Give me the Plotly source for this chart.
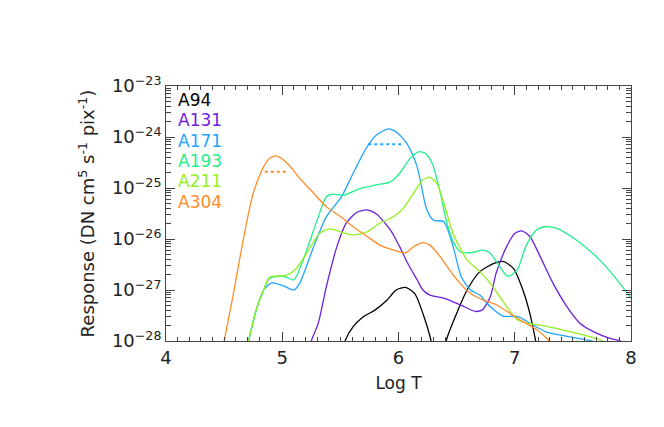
import plotly.graph_objects as go

# ---- data (log T, log10 response) ----
a94_logt = [5.50, 5.54, 5.61, 5.70, 5.80, 5.90, 5.98, 6.06, 6.14, 6.21, 6.28, 6.33, 6.345, 6.36,
            6.41, 6.50, 6.59, 6.70, 6.82, 6.90, 6.99, 7.07, 7.13, 7.18, 7.22]
a94_log = [-28.5, -28.0, -27.72, -27.52, -27.39, -27.20, -27.0, -26.95, -27.07, -27.46, -28.0, -28.8, -30.0, -28.8,
           -28.0, -27.46, -27.0, -26.64, -26.48, -26.44, -26.58, -27.0, -27.46, -28.0, -28.5]

a131_logt = [5.22, 5.25, 5.31, 5.38, 5.47, 5.55, 5.64, 5.73, 5.81, 5.93, 6.01, 6.08, 6.16, 6.21, 6.27,
             6.39, 6.53, 6.66, 6.72, 6.79, 6.84, 6.93, 7.00, 7.06, 7.13, 7.22, 7.33, 7.45, 7.56, 7.68,
             7.82, 7.91, 8.0]
a131_log = [-28.3, -28.0, -27.65, -26.93, -26.15, -25.69, -25.48, -25.43, -25.51, -25.82, -26.15, -26.48,
            -26.80, -27.0, -27.10, -27.16, -27.29, -27.42, -27.39, -27.13, -26.67, -26.15, -25.89, -25.84,
            -25.95, -26.35, -26.87, -27.33, -27.65, -27.82, -27.95, -28.0, -28.1]

a171_logt = [4.68, 4.71, 4.78, 4.84, 4.91, 5.01, 5.10, 5.15, 5.27, 5.38, 5.51, 5.61, 5.73, 5.81, 5.91,
             5.98, 6.07, 6.16, 6.24, 6.30, 6.39, 6.47, 6.54, 6.62, 6.70, 6.79, 6.90, 7.03, 7.13, 7.27,
             7.48, 7.66, 7.9]
a171_log = [-28.3, -28.0, -27.36, -27.0, -26.86, -26.92, -27.0, -26.87, -26.15, -25.56, -25.17, -24.71,
            -24.19, -23.96, -23.84, -23.90, -24.12, -24.58, -25.40, -25.63, -25.66, -26.15, -26.74, -27.0,
            -27.10, -27.33, -27.51, -27.52, -27.65, -27.82, -27.92, -28.0, -28.2]

a193_logt = [4.68, 4.71, 4.78, 4.84, 4.89, 5.01, 5.10, 5.18, 5.30, 5.38, 5.44, 5.53, 5.67, 5.81, 5.93,
             6.01, 6.10, 6.17, 6.23, 6.29, 6.36, 6.41, 6.47, 6.53, 6.62, 6.73, 6.79, 6.87, 6.94, 7.02,
             7.10, 7.19, 7.26, 7.36, 7.53, 7.73, 7.88, 8.0]
a193_log = [-28.3, -28.0, -27.36, -27.0, -26.77, -26.73, -26.80, -26.41, -25.63, -25.17, -25.12, -25.14,
            -25.01, -24.94, -24.88, -24.71, -24.42, -24.29, -24.32, -24.52, -25.10, -25.63, -26.05, -26.25,
            -26.27, -26.22, -26.28, -26.54, -26.73, -26.61, -26.12, -25.82, -25.76, -25.79, -26.02, -26.41,
            -26.80, -27.16]

a211_logt = [4.68, 4.71, 4.78, 4.84, 4.89, 5.04, 5.12, 5.21, 5.32, 5.41, 5.50, 5.61, 5.73, 5.84, 5.96,
             6.04, 6.13, 6.21, 6.27, 6.33, 6.39, 6.47, 6.59, 6.70, 6.79, 6.90, 7.02, 7.10, 7.22, 7.39,
             7.59, 7.76, 7.9]
a211_log = [-28.3, -28.0, -27.36, -27.0, -26.75, -26.71, -26.58, -26.28, -25.89, -25.80, -25.86, -25.92,
            -25.86, -25.69, -25.56, -25.40, -25.10, -24.84, -24.79, -24.91, -25.30, -25.89, -26.41, -26.64,
            -26.87, -27.23, -27.58, -27.65, -27.69, -27.77, -27.88, -28.0, -28.2]

a304_logt = [4.45, 4.50, 4.58, 4.67, 4.75, 4.84, 4.89, 4.94, 4.98, 5.07, 5.15, 5.27, 5.38, 5.50, 5.61,
             5.73, 5.84, 5.96, 6.06, 6.13, 6.21, 6.27, 6.36, 6.44, 6.53, 6.62, 6.73, 6.84, 6.96, 7.07,
             7.19, 7.30, 7.4]
a304_log = [-28.5, -28.0, -27.07, -25.95, -25.10, -24.58, -24.42, -24.37, -24.40, -24.58, -24.81, -25.10,
            -25.37, -25.56, -25.76, -25.95, -26.12, -26.22, -26.27, -26.15, -26.07, -26.12, -26.35, -26.61,
            -26.87, -27.07, -27.20, -27.29, -27.46, -27.62, -27.78, -28.0, -28.2]

# half-maximum dotted markers
a171_half_logt = [5.74, 6.04]
a171_half_log = [-24.14, -24.14]
a304_half_logt = [4.85, 5.05]
a304_half_log = [-24.68, -24.68]

names = ["A94", "A131", "A171", "A193", "A211", "A304"]
colors = ["#000000", "#6a22dc", "#1ea6ff", "#1ef08a", "#96ef1e", "#ff8c28"]

x_ticks = [4, 5, 6, 7, 8]
x_minor = [4 + i / 10 for i in range(41) if i % 10 != 0]
y_exps = [-28, -27, -26, -25, -24, -23]
y_minor = [m * 10.0 ** e for e in range(-28, -23) for m in range(2, 10)]

series = [(a94_logt, a94_log), (a131_logt, a131_log), (a171_logt, a171_log),
          (a193_logt, a193_log), (a211_logt, a211_log), (a304_logt, a304_log)]

FONT = "DejaVu Sans"
TXT = "#222222"
AX = "#444444"

fig = go.Figure()
for (xs, ls), name, col in zip(series, names, colors):
    fig.add_trace(go.Scatter(x=xs, y=[10 ** v for v in ls], mode="lines", name=name,
                             line=dict(color=col, width=1.3, shape="spline", smoothing=0.7),
                             showlegend=False))

for xs, ls, col in [(a171_half_logt, a171_half_log, colors[2]), (a304_half_logt, a304_half_log, colors[5])]:
    fig.add_trace(go.Scatter(x=xs, y=[10 ** v for v in ls], mode="lines",
                             line=dict(color=col, width=2, dash="dot"), showlegend=False))

# invisible trace that anchors the minor-tick overlay axes
fig.add_trace(go.Scatter(x=[4, 8], y=[1e-28, 1e-23], xaxis="x2", yaxis="y2", mode="markers",
                         marker=dict(opacity=0), hoverinfo="skip", showlegend=False))

for i, (name, col) in enumerate(zip(names, colors)):
    fig.add_annotation(x=0, y=1, xref="paper", yref="paper", xanchor="left", yanchor="middle",
                       xshift=10, yshift=-14 - i * 20.3, text=name, showarrow=False,
                       font=dict(family=FONT, size=17, color=col))

fig.update_layout(
    width=664, height=427,
    margin=dict(l=158, r=41, t=78, b=94),
    paper_bgcolor="white", plot_bgcolor="white",
    font=dict(family=FONT, size=17, color=TXT),
    showlegend=False,
    xaxis=dict(range=[4, 8], tickvals=x_ticks, ticktext=[str(v) for v in x_ticks],
               ticks="inside", ticklen=9, tickcolor=AX, showline=True, linecolor=AX, linewidth=1,
               mirror="allticks", showgrid=False, zeroline=False,
               title=dict(text="Log T", font=dict(size=17), standoff=10),
               tickfont=dict(size=18)),
    yaxis=dict(type="log", range=[-28, -23], tickvals=[10 ** e for e in y_exps],
               ticktext=["10<sup>\u2212%d</sup>" % (-e) for e in y_exps],
               ticks="inside", ticklen=9, tickcolor=AX, showline=True, linecolor=AX, linewidth=1,
               mirror="allticks", showgrid=False, zeroline=False,
               title=dict(text="Response (DN cm<sup>5</sup> s<sup>-1</sup> pix<sup>-1</sup>)",
                          font=dict(size=18), standoff=12),
               tickfont=dict(size=18)),
    xaxis2=dict(overlaying="x", range=[4, 8], tickvals=x_minor, ticks="inside", ticklen=4,
                tickcolor=AX, showticklabels=False, showgrid=False, zeroline=False,
                mirror="allticks", showline=False, anchor="y2", side="bottom"),
    yaxis2=dict(overlaying="y", type="log", range=[-28, -23], tickvals=y_minor, ticks="inside",
                ticklen=5, tickcolor=AX, showticklabels=False, showgrid=False, zeroline=False,
                mirror="allticks", showline=False, anchor="x2", side="left"),
)

fig.write_html("out.html")
